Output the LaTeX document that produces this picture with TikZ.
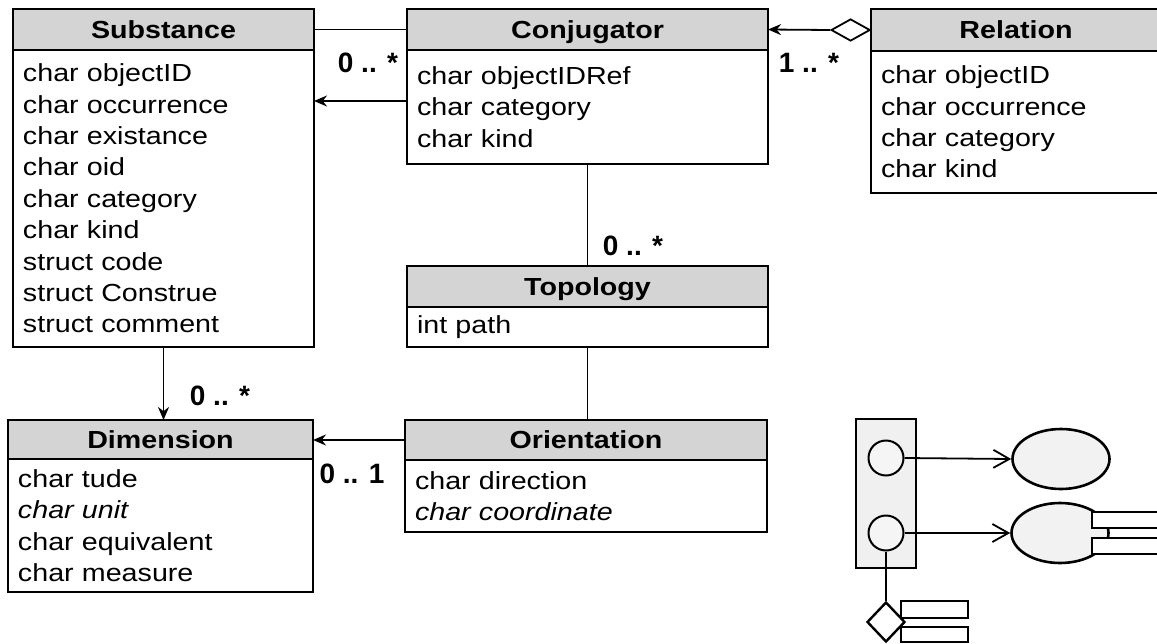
\documentclass[tikz,border=0pt]{standalone}
\usepackage{fontspec}
\setmainfont{Liberation Sans}[FakeStretch=1.16]
\newfontfamily\multfont{Liberation Sans}
\usetikzlibrary{positioning,shapes.geometric,arrows.meta}

\tikzset{
  classhead/.style={draw, line width=1pt, fill=black!17, inner sep=0pt, outer sep=0pt,
    text height=8.8pt, text depth=0pt, font=\fontsize{12.35}{15.7}\selectfont\bfseries},
  classbody/.style={draw, line width=1pt, fill=white, align=left, inner xsep=5pt,
    inner ysep=0pt, outer sep=0pt, font=\fontsize{12.35}{15.7}\selectfont},
  assoc/.style={line width=0.9pt},
  navig/.style={assoc, -{Stealth[length=6.5pt,width=5.5pt]}},
  mult/.style={font=\multfont\fontsize{14}{16}\selectfont\bfseries, inner sep=0pt, anchor=base},
  legbox/.style={draw, line width=1pt, fill=black!6, inner sep=0pt, outer sep=0pt},
  legcirc/.style={circle, draw, line width=1pt, fill=black!4, minimum size=17.5pt, inner sep=0pt},
  legell/.style={ellipse, draw, line width=1.3pt, fill=black!5, minimum width=48.5pt,
    minimum height=30pt, inner sep=0pt},
  legarrow/.style={line width=0.9pt, -{Straight Barb[length=8pt,width=9pt]}},
  legrect/.style={draw, line width=1.2pt, fill=white}
}

\begin{document}
\begin{tikzpicture}[x=0.5pt, y=-0.5pt]

  \useasboundingbox (0,0) rectangle (1157,643);
  \clip (0,0) rectangle (1157,643);

  % classes
  \node[classhead, minimum width=150.5pt, minimum height=20.5pt, anchor=north west] (subst) at (13,9) {Substance};
  \node[classbody, text width=140.5pt, minimum height=148.5pt, below=0pt of subst] (substb)
    {char objectID\\ char occurrence\\ char existance\\ char oid\\ char category\\
     char kind\\ struct code\\ struct Construe\\ struct comment};

  \node[classhead, minimum width=180.5pt, minimum height=20.5pt, anchor=north west] (conj) at (407,9) {Conjugator};
  \node[classbody, text width=170.5pt, minimum height=57pt, below=0pt of conj] (conjb)
    {char objectIDRef\\ char category\\ char kind};

  \node[classhead, minimum width=145pt, minimum height=21pt, anchor=north west] (rel) at (871,9) {Relation};
  \node[classbody, text width=135pt, minimum height=71pt, below=0pt of rel] (relb)
    {char objectID\\ char occurrence\\ char category\\ char kind};

  \node[classhead, minimum width=180.5pt, minimum height=20.5pt, anchor=north west] (topo) at (407,266) {Topology};
  \node[classbody, text width=170.5pt, minimum height=20pt, below=0pt of topo] (topob) {int path};

  \node[classhead, minimum width=181pt, minimum height=20pt, anchor=north west] (orient) at (405,420) {Orientation};
  \node[classbody, text width=171pt, minimum height=36pt, below=0pt of orient] (orientb)
    {char direction\\ \textit{char coordinate}};

  \node[classhead, minimum width=152.5pt, minimum height=19.5pt, anchor=north west] (dim) at (8,420) {Dimension};
  \node[classbody, text width=142.5pt, minimum height=66.5pt, below=0pt of dim] (dimb)
    {char tude\\ \textit{char unit}\\ char equivalent\\ char measure};

  % associations
  \node[diamond, draw, line width=0.9pt, fill=white, minimum width=19.5pt, minimum height=11pt,
    inner sep=0pt, anchor=east] (agg) at (rel.west) {};

  \draw[assoc] (subst.east) -- (conj.west);
  \draw[navig] ([yshift=3pt]conjb.west) -- ([yshift=3pt]conjb.west -| substb.east);
  \draw[navig] (agg.west) -- (conj.east);
  \draw[assoc] (conjb.south) -- (topo.north);
  \draw[assoc] (topob.south) -- (topob.south |- orient.north);
  \draw[navig] (orient.west) -- (orient.west -| dim.east);
  \draw[navig] (substb.south) -- (substb.south |- dim.north);

  \node[mult] (m1) at (368,72) {0 .. *};
  \node[mult] (m2) at (809,72) {1 .. *};
  \node[mult] (m3) at (633,255) {0 .. *};
  \node[mult] (m4) at (220,405) {0 .. *};
  \node[mult] (m5) at (352,483) {0 .. 1};

  % legend
  \node[legbox, minimum width=30pt, minimum height=74.5pt, anchor=north west] (leg) at (856,419) {};
  \node[legcirc] (c1) at (886,458) {};
  \node[legcirc] (c2) at (886,533) {};
  \node[legell] (e1) at (1061,459) {};
  \node[legell] (e2) at (1060,533) {};
  \draw[legrect] (1092,512) rectangle (1180,528);
  \draw[legrect] (1092,538) rectangle (1180,554);
  \draw[line width=1.2pt] (1108,528) -- (1108,538);
  \draw[legarrow] (c1.east) -- (e1.west);
  \draw[legarrow] (c2.east) -- (e2.west);

  \node[diamond, draw, line width=1.2pt, fill=white, minimum width=19pt, minimum height=20pt,
    inner sep=0pt] (d2) at (886,622) {};
  \draw[line width=1pt] (c2.south) -- (d2.north);
  \draw[legrect] (901,601) rectangle (968,618);
  \draw[legrect] (901,627) rectangle (968,642);

\end{tikzpicture}
\end{document}
